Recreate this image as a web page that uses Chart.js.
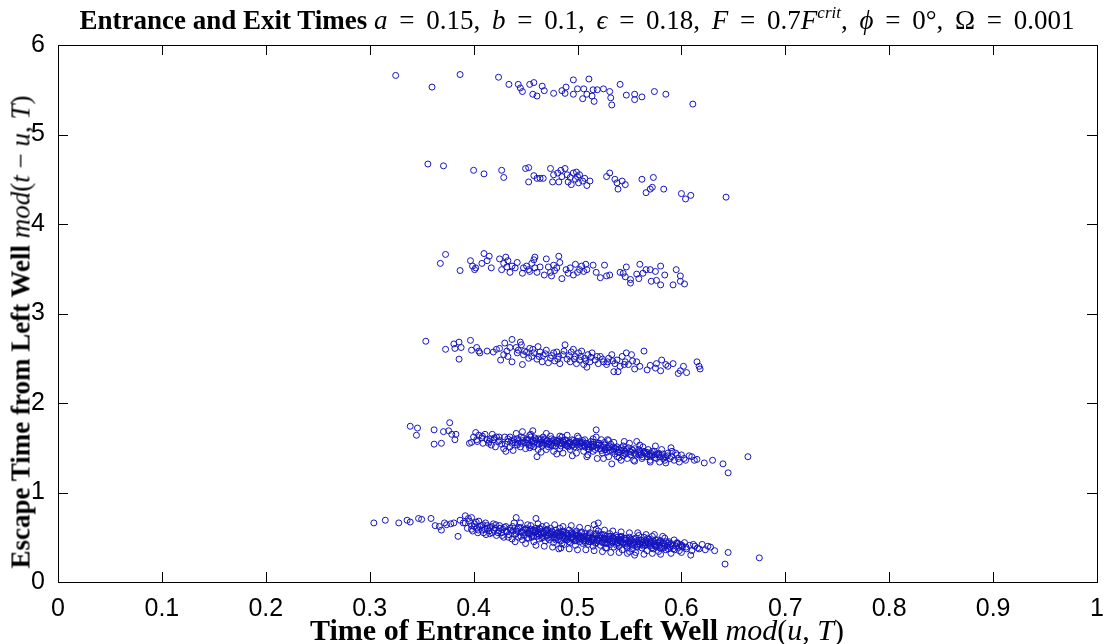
<!DOCTYPE html>
<html>
<head>
<meta charset="utf-8">
<script src="https://cdn.jsdelivr.net/npm/chart.js@4.4.1/dist/chart.umd.min.js"></script>
<style>
  body { margin: 0; background: #fff; }
  #wrap { position: relative; width: 1110px; height: 644px; }
  .lbl { position: absolute; white-space: nowrap; font-family: "Liberation Serif", serif; color: #000; line-height: 1; }
  .lbl b { font-weight: bold; }
  .math { word-spacing: 5px; }
  #title { left: 577px; top: 20px; transform: translate(-50%, -50%); font-size: 27px; }
  #xlab { left: 577px; top: 630px; transform: translate(-50%, -50%); font-size: 30px; }
  #ylab { left: 21px; top: 332px; transform: translate(-50%, -50%) rotate(-90deg); font-size: 27px; }
  sup { font-size: 17px; vertical-align: 11px; line-height: 0; }
</style>
</head>
<body>
<div id="wrap">
  <canvas id="scatter" width="1110" height="644"></canvas>
  <div class="lbl" id="title"><b>Entrance and Exit Times</b> <span class="math"><i>a</i> = 0.15, <i>b</i> = 0.1, <i>ϵ</i> = 0.18, <i>F</i> = 0.7<i>F</i><sup><i>crit</i></sup>, <i>ϕ</i> = 0°, Ω = 0.001</span></div>
  <div class="lbl" id="xlab"><b>Time of Entrance into Left Well</b> <i>mod</i>(<i>u</i>, <i>T</i>)</div>
  <div class="lbl" id="ylab"><b>Escape Time from Left Well</b> <i>mod</i>(<i>t</i> − <i>u</i>, <i>T</i>)</div>
</div>
<script>
const xTickLabels = ["0", "0.1", "0.2", "0.3", "0.4", "0.5", "0.6", "0.7", "0.8", "0.9", "1"];
const yTickLabels = ["0", "1", "2", "3", "4", "5", "6"];

// [entrance time, escape time], one array per band
const band6 = [
  [0.325,5.66],[0.360,5.53],[0.387,5.67],[0.424,5.64],[0.434,5.56],[0.443,5.56],[0.445,5.52],[0.447,5.48],
  [0.454,5.56],[0.458,5.58],[0.457,5.45],[0.461,5.43],[0.466,5.54],[0.468,5.49],[0.477,5.46],[0.485,5.49],
  [0.489,5.53],[0.488,5.46],[0.496,5.61],[0.496,5.45],[0.500,5.51],[0.505,5.40],[0.506,5.51],[0.509,5.45],
  [0.511,5.62],[0.514,5.43],[0.515,5.50],[0.516,5.37],[0.519,5.50],[0.525,5.51],[0.531,5.48],[0.532,5.41],
  [0.533,5.33],[0.541,5.56],[0.547,5.44],[0.555,5.45],[0.555,5.39],[0.562,5.42],[0.574,5.48],[0.585,5.45],
  [0.611,5.34]
];
const band5 = [
  [0.356,4.67],[0.371,4.65],[0.400,4.60],[0.410,4.56],[0.427,4.60],[0.429,4.52],[0.450,4.62],[0.453,4.63],
  [0.453,4.47],[0.458,4.54],[0.461,4.51],[0.464,4.51],[0.467,4.51],[0.474,4.62],[0.476,4.47],[0.477,4.55],
  [0.481,4.57],[0.482,4.47],[0.484,4.60],[0.485,4.53],[0.488,4.62],[0.490,4.55],[0.491,4.47],[0.493,4.52],
  [0.494,4.44],[0.496,4.57],[0.498,4.50],[0.499,4.58],[0.500,4.53],[0.501,4.46],[0.502,4.55],[0.505,4.48],
  [0.507,4.51],[0.509,4.43],[0.512,4.48],[0.528,4.53],[0.531,4.57],[0.536,4.50],[0.538,4.46],[0.539,4.39],
  [0.543,4.48],[0.546,4.44],[0.562,4.50],[0.573,4.52],[0.566,4.35],[0.570,4.39],[0.572,4.41],[0.583,4.39],
  [0.600,4.34],[0.604,4.28],[0.609,4.32],[0.643,4.30]
];
const band4 = [
  [0.368,3.56],[0.373,3.66],[0.387,3.48],[0.397,3.59],[0.399,3.53],[0.401,3.49],[0.402,3.51],[0.408,3.56],
  [0.410,3.67],[0.415,3.64],[0.413,3.59],[0.417,3.51],[0.425,3.61],[0.427,3.49],[0.429,3.56],[0.431,3.63],
  [0.432,3.52],[0.433,3.59],[0.435,3.46],[0.437,3.53],[0.440,3.51],[0.442,3.57],[0.447,3.45],[0.448,3.51],
  [0.451,3.53],[0.453,3.49],[0.454,3.47],[0.456,3.56],[0.458,3.60],[0.459,3.63],[0.459,3.51],[0.461,3.46],
  [0.464,3.52],[0.468,3.43],[0.470,3.61],[0.472,3.52],[0.474,3.46],[0.475,3.42],[0.477,3.54],[0.478,3.48],
  [0.482,3.64],[0.483,3.57],[0.480,3.51],[0.485,3.39],[0.489,3.49],[0.491,3.45],[0.493,3.51],[0.496,3.43],
  [0.498,3.55],[0.500,3.46],[0.502,3.49],[0.504,3.53],[0.506,3.47],[0.508,3.55],[0.509,3.49],[0.515,3.54],
  [0.518,3.46],[0.522,3.40],[0.526,3.54],[0.528,3.42],[0.531,3.43],[0.541,3.46],[0.544,3.45],[0.546,3.41],
  [0.547,3.52],[0.551,3.38],[0.551,3.34],[0.557,3.44],[0.559,3.39],[0.560,3.55],[0.563,3.45],[0.566,3.49],
  [0.570,3.49],[0.571,3.36],[0.575,3.47],[0.576,3.37],[0.580,3.53],[0.584,3.43],[0.580,3.32],[0.592,3.32],
  [0.595,3.49],[0.599,3.42],[0.599,3.36],[0.603,3.33]
];
const band3 = [
  [0.354,2.69],[0.373,2.60],[0.381,2.66],[0.382,2.61],[0.386,2.68],[0.388,2.62],[0.386,2.49],[0.397,2.70],
  [0.398,2.59],[0.403,2.62],[0.406,2.56],[0.405,2.58],[0.413,2.58],[0.419,2.57],[0.422,2.60],[0.425,2.61],
  [0.426,2.48],[0.429,2.54],[0.430,2.67],[0.432,2.58],[0.433,2.52],[0.435,2.62],[0.437,2.46],[0.437,2.71],
  [0.442,2.56],[0.443,2.59],[0.445,2.68],[0.446,2.65],[0.447,2.43],[0.448,2.54],[0.451,2.57],[0.453,2.50],
  [0.454,2.61],[0.456,2.52],[0.458,2.56],[0.461,2.49],[0.462,2.63],[0.464,2.57],[0.466,2.46],[0.467,2.53],
  [0.470,2.59],[0.472,2.45],[0.474,2.50],[0.477,2.56],[0.478,2.47],[0.480,2.57],[0.482,2.52],[0.483,2.44],
  [0.486,2.54],[0.488,2.65],[0.490,2.49],[0.493,2.46],[0.494,2.57],[0.496,2.60],[0.498,2.52],[0.499,2.44],
  [0.501,2.56],[0.502,2.48],[0.504,2.58],[0.506,2.43],[0.507,2.50],[0.509,2.40],[0.510,2.54],[0.512,2.46],
  [0.514,2.56],[0.517,2.48],[0.520,2.44],[0.522,2.52],[0.525,2.46],[0.528,2.43],[0.530,2.50],[0.533,2.54],
  [0.535,2.35],[0.536,2.44],[0.538,2.48],[0.539,2.35],[0.541,2.41],[0.543,2.52],[0.546,2.46],[0.547,2.56],
  [0.549,2.43],[0.552,2.54],[0.555,2.38],[0.557,2.46],[0.564,2.58],[0.567,2.37],[0.576,2.44],[0.581,2.48],
  [0.580,2.36],[0.587,2.41],[0.592,2.44],[0.599,2.36],[0.602,2.41],[0.615,2.46],[0.617,2.41],[0.618,2.38],
  [0.605,2.34],[0.597,2.33],[0.575,2.39],[0.570,2.42],[0.585,2.43],[0.560,2.41],
  [0.441,2.62],[0.449,2.58],[0.457,2.60],[0.463,2.52],[0.469,2.55],[0.475,2.53],[0.481,2.49],[0.487,2.58],
  [0.492,2.53],[0.497,2.49],[0.503,2.52],[0.508,2.47],[0.513,2.51],[0.519,2.52],[0.524,2.49],[0.529,2.46],
  [0.534,2.47],[0.545,2.43],[0.553,2.47]
];
const band2 = [
  [0.339,1.74],[0.346,1.72],[0.345,1.64],[0.362,1.70],[0.362,1.54],[0.369,1.55],[0.371,1.68],[0.377,1.78],
  [0.376,1.69],[0.379,1.65],[0.383,1.65],[0.382,1.59],
  [0.396,1.55],[0.398,1.56],[0.400,1.62],[0.402,1.67],[0.403,1.59],[0.405,1.64],[0.408,1.61],[0.409,1.55],
  [0.411,1.65],[0.413,1.59],[0.415,1.57],[0.417,1.53],[0.418,1.65],[0.420,1.61],[0.421,1.51],[0.422,1.62],
  [0.424,1.57],[0.429,1.49],[0.430,1.62],[0.431,1.46],[0.433,1.57],[0.435,1.62],[0.437,1.55],[0.438,1.47],
  [0.439,1.59],[0.441,1.66],[0.442,1.53],[0.443,1.58],[0.445,1.51],[0.446,1.62],[0.447,1.68],[0.449,1.56],
  [0.450,1.49],[0.451,1.59],[0.453,1.53],[0.454,1.64],[0.456,1.57],[0.457,1.69],[0.458,1.51],[0.459,1.61],
  [0.461,1.55],[0.461,1.40],[0.462,1.48],[0.464,1.59],[0.466,1.52],[0.467,1.62],[0.469,1.55],[0.470,1.48],
  [0.471,1.58],[0.472,1.51],[0.474,1.63],[0.475,1.55],[0.477,1.46],[0.477,1.59],[0.479,1.52],[0.481,1.57],
  [0.483,1.63],[0.483,1.49],[0.485,1.55],[0.486,1.44],[0.488,1.59],[0.490,1.52],[0.490,1.64],[0.492,1.56],
  [0.493,1.48],[0.495,1.59],[0.497,1.51],[0.499,1.44],[0.499,1.57],[0.501,1.61],[0.502,1.51],[0.504,1.55],
  [0.506,1.46],[0.507,1.59],[0.509,1.40],[0.510,1.53],[0.511,1.48],[0.513,1.57],[0.515,1.46],[0.516,1.52],
  [0.518,1.70],[0.518,1.62],[0.519,1.38],[0.520,1.55],[0.522,1.49],[0.523,1.59],[0.524,1.44],[0.526,1.53],
  [0.527,1.48],[0.529,1.59],[0.530,1.40],[0.531,1.51],[0.533,1.32],[0.534,1.46],[0.535,1.56],[0.537,1.49],
  [0.538,1.40],[0.540,1.48],[0.542,1.36],[0.544,1.52],[0.545,1.44],[0.547,1.48],[0.548,1.38],[0.550,1.55],
  [0.552,1.45],[0.554,1.36],[0.555,1.49],[0.557,1.57],[0.559,1.42],[0.560,1.46],[0.562,1.38],[0.563,1.51],
  [0.565,1.44],[0.567,1.40],[0.568,1.48],[0.570,1.36],[0.572,1.42],[0.574,1.46],[0.576,1.38],[0.578,1.44],
  [0.579,1.34],[0.581,1.48],[0.583,1.40],[0.584,1.36],[0.587,1.44],[0.589,1.38],[0.591,1.46],[0.593,1.36],
  [0.596,1.42],[0.597,1.38],
  [0.442,1.60],[0.446,1.55],[0.448,1.61],[0.450,1.56],[0.452,1.59],[0.454,1.50],[0.455,1.62],[0.458,1.55],
  [0.460,1.59],[0.463,1.54],[0.465,1.60],[0.466,1.56],[0.468,1.59],[0.471,1.54],[0.473,1.57],[0.475,1.60],
  [0.476,1.52],[0.479,1.58],[0.480,1.55],[0.482,1.59],[0.484,1.52],[0.486,1.58],[0.488,1.54],[0.489,1.58],
  [0.491,1.51],[0.493,1.56],[0.495,1.53],[0.496,1.58],[0.498,1.55],[0.500,1.53],[0.502,1.56],[0.504,1.52],
  [0.505,1.58],[0.507,1.51],[0.508,1.55],[0.510,1.49],[0.511,1.54],[0.514,1.51],[0.515,1.56],[0.517,1.48],
  [0.519,1.53],[0.521,1.55],[0.523,1.47],[0.525,1.51],[0.526,1.56],[0.528,1.45],[0.530,1.50],[0.532,1.54],
  [0.535,1.48],[0.536,1.43],[0.538,1.51],[0.540,1.45],[0.542,1.50],[0.544,1.41],[0.546,1.46],[0.549,1.50],
  [0.551,1.42],[0.553,1.47],[0.556,1.43],[0.559,1.48],[0.561,1.42],[0.564,1.46],[0.567,1.43],[0.570,1.41],
  [0.572,1.46],[0.575,1.42],[0.579,1.40],[0.582,1.43],[0.585,1.40],[0.416,1.60],[0.425,1.58],[0.427,1.54],
  [0.433,1.60],[0.440,1.56],[0.435,1.51],
  [0.4035,1.57],[0.4085,1.63],[0.4145,1.55],[0.4195,1.59],[0.4245,1.62],[0.4305,1.54],[0.4365,1.58],[0.4425,1.55],
  [0.4475,1.58],[0.4525,1.55],[0.4555,1.52],[0.4595,1.57],[0.4625,1.60],[0.4665,1.54],[0.4705,1.58],[0.4745,1.53],
  [0.4785,1.56],[0.4825,1.54],[0.4865,1.56],[0.4905,1.55],[0.4945,1.52],[0.4985,1.57],[0.5025,1.54],[0.5065,1.53],
  [0.5105,1.51],[0.5145,1.54],[0.5185,1.50],[0.5225,1.52],[0.5265,1.48],[0.5305,1.47],[0.5345,1.51],[0.5385,1.45],
  [0.5425,1.47],[0.5465,1.43],[0.5505,1.46],[0.5545,1.44],[0.5585,1.45],[0.5625,1.40],[0.5665,1.45],[0.5705,1.44],
  [0.5745,1.39],[0.5785,1.42],[0.5825,1.38],[0.5865,1.41],[0.5905,1.40],[0.5945,1.44],[0.6025,1.38],[0.6075,1.41],
  [0.6125,1.36],
  [0.455,1.65],[0.470,1.66],[0.485,1.62],[0.500,1.63],[0.515,1.60],[0.530,1.58],[0.545,1.57],[0.560,1.53],
  [0.575,1.52],[0.590,1.50],[0.465,1.45],[0.480,1.43],[0.495,1.41],[0.510,1.42],[0.525,1.38],[0.540,1.39],
  [0.555,1.35],[0.570,1.34],[0.585,1.33],[0.598,1.34],[0.4575,1.58],[0.4645,1.56],[0.4725,1.55],[0.4805,1.57],
  [0.4885,1.53],[0.4965,1.55],[0.5045,1.56],[0.5125,1.53],[0.5205,1.53],[0.5285,1.50],[0.5365,1.49],[0.5445,1.48],
  [0.5525,1.48],[0.5605,1.44],[0.5685,1.42],[0.5765,1.43],
  [0.600,1.42],[0.604,1.36],[0.610,1.40],[0.615,1.37],[0.622,1.33],[0.630,1.36],[0.640,1.32],[0.645,1.22],
  [0.664,1.40]
];
const band1 = [
  [0.304,0.66],[0.315,0.69],[0.328,0.66],[0.336,0.69],[0.339,0.67],[0.347,0.71],[0.350,0.70],[0.359,0.71],
  [0.363,0.63],[0.367,0.62],[0.369,0.58],[0.372,0.66],[0.374,0.64],[0.378,0.65],[0.381,0.66],[0.385,0.51],
  [0.387,0.69],[0.390,0.66],[0.392,0.74],[0.395,0.71],[0.398,0.72],[0.398,0.59],
  [0.392,0.66],[0.394,0.60],[0.396,0.68],[0.398,0.63],[0.399,0.57],[0.401,0.65],[0.403,0.60],[0.404,0.55],
  [0.405,0.68],[0.406,0.62],[0.408,0.58],[0.409,0.64],[0.411,0.59],[0.412,0.53],[0.413,0.63],[0.415,0.57],
  [0.416,0.61],[0.418,0.55],[0.419,0.65],[0.421,0.60],[0.422,0.52],[0.424,0.57],[0.425,0.63],[0.427,0.55],
  [0.428,0.59],[0.429,0.50],[0.431,0.62],[0.432,0.56],[0.434,0.53],[0.435,0.60],[0.437,0.48],[0.438,0.57],
  [0.439,0.66],[0.441,0.54],[0.442,0.59],[0.443,0.50],[0.445,0.61],[0.446,0.56],[0.447,0.47],[0.448,0.58],
  [0.449,0.52],[0.451,0.60],[0.452,0.55],[0.453,0.49],[0.454,0.57],[0.455,0.63],[0.456,0.52],[0.457,0.58],
  [0.458,0.45],[0.459,0.55],[0.460,0.60],[0.461,0.51],[0.462,0.56],[0.463,0.48],[0.464,0.59],[0.465,0.53],
  [0.466,0.62],[0.467,0.50],[0.468,0.56],[0.469,0.46],[0.470,0.58],[0.471,0.52],[0.472,0.55],[0.473,0.47],
  [0.474,0.60],[0.475,0.50],[0.476,0.56],[0.477,0.44],[0.478,0.53],[0.479,0.58],[0.480,0.49],[0.481,0.55],
  [0.482,0.51],[0.483,0.60],[0.484,0.46],[0.485,0.53],[0.486,0.57],[0.487,0.42],[0.488,0.50],[0.489,0.55],
  [0.490,0.47],[0.491,0.52],[0.492,0.58],[0.493,0.44],[0.494,0.50],[0.495,0.55],[0.496,0.48],[0.497,0.53],
  [0.498,0.41],[0.499,0.57],[0.500,0.49],[0.501,0.53],[0.502,0.45],[0.503,0.51],[0.504,0.56],[0.505,0.43],
  [0.506,0.48],[0.507,0.54],[0.508,0.46],[0.509,0.51],[0.510,0.42],[0.511,0.49],[0.512,0.55],[0.513,0.45],
  [0.514,0.50],[0.515,0.40],[0.516,0.47],[0.517,0.53],[0.518,0.44],[0.519,0.49],[0.520,0.57],[0.521,0.46],
  [0.522,0.41],[0.523,0.50],[0.524,0.44],[0.525,0.53],[0.526,0.47],[0.527,0.38],[0.528,0.51],[0.529,0.43],
  [0.530,0.48],[0.531,0.54],[0.532,0.42],[0.533,0.46],[0.534,0.50],[0.535,0.39],[0.536,0.45],[0.537,0.52],
  [0.538,0.43],[0.539,0.48],[0.540,0.40],[0.541,0.46],[0.542,0.51],[0.543,0.36],[0.544,0.44],[0.545,0.49],
  [0.546,0.41],[0.547,0.47],[0.548,0.38],[0.549,0.45],[0.550,0.50],[0.551,0.42],[0.552,0.47],[0.553,0.37],
  [0.554,0.44],[0.556,0.49],[0.557,0.40],[0.558,0.45],[0.559,0.52],[0.560,0.42],[0.561,0.47],[0.562,0.38],
  [0.563,0.44],[0.564,0.50],[0.565,0.41],[0.566,0.46],[0.567,0.35],[0.568,0.43],[0.569,0.48],[0.570,0.40],
  [0.571,0.45],[0.572,0.51],[0.573,0.37],[0.574,0.43],[0.575,0.47],[0.576,0.39],[0.577,0.44],[0.578,0.34],
  [0.579,0.41],[0.580,0.46],[0.581,0.38],[0.583,0.43],[0.584,0.49],[0.585,0.36],[0.587,0.41],[0.588,0.45],
  [0.589,0.39],[0.590,0.43],[0.592,0.37],[0.593,0.47],[0.595,0.40],[0.596,0.44],[0.598,0.35],[0.599,0.42],
  [0.601,0.39],[0.603,0.44],[0.605,0.37],[0.608,0.41],[0.610,0.35],[0.613,0.40],[0.617,0.37],[0.620,0.42],
  [0.623,0.36],[0.628,0.39],[0.632,0.35],
  [0.441,0.72],[0.460,0.71],[0.520,0.66],[0.516,0.64],[0.528,0.38],[0.555,0.30],[0.550,0.34],[0.482,0.37],
  [0.485,0.43],[0.600,0.40],[0.596,0.43],[0.642,0.20],[0.645,0.33],[0.675,0.27],
  [0.4005,0.62],[0.4025,0.67],[0.4045,0.58],[0.4075,0.63],[0.4095,0.55],[0.4115,0.66],[0.4135,0.60],[0.4155,0.54],
  [0.4175,0.62],[0.4195,0.58],[0.4215,0.64],[0.4235,0.55],[0.4255,0.60],[0.4275,0.52],[0.4295,0.61],[0.4315,0.57],
  [0.4335,0.50],[0.4355,0.58],[0.4375,0.62],[0.4395,0.53],[0.4415,0.57],[0.4435,0.61],[0.4455,0.51],[0.4475,0.55],
  [0.4495,0.59],[0.4515,0.49],[0.4535,0.54],[0.4555,0.59],[0.4575,0.51],[0.4595,0.57],[0.4615,0.54],[0.4635,0.60],
  [0.4655,0.49],[0.4675,0.54],[0.4695,0.58],[0.4715,0.49],[0.4735,0.53],[0.4755,0.57],[0.4775,0.50],[0.4795,0.54],
  [0.4815,0.47],[0.4835,0.52],[0.4855,0.56],[0.4875,0.48],[0.4895,0.52],[0.4915,0.45],[0.4935,0.55],[0.4955,0.50],
  [0.4975,0.46],[0.4995,0.52],[0.5015,0.48],[0.5035,0.55],[0.5055,0.50],[0.5075,0.44],[0.5095,0.49],[0.5115,0.53],
  [0.5135,0.47],[0.5155,0.51],[0.5175,0.43],[0.5195,0.47],[0.5215,0.52],[0.5235,0.45],[0.5255,0.49],[0.5275,0.43],
  [0.5295,0.47],[0.5315,0.51],[0.5335,0.44],[0.5355,0.48],[0.5375,0.41],[0.5395,0.46],[0.5415,0.50],[0.5435,0.43],
  [0.5455,0.47],[0.5475,0.40],[0.5495,0.44],[0.5515,0.48],[0.5535,0.41],[0.5555,0.45],[0.5575,0.39],[0.5595,0.43],
  [0.5615,0.47],[0.5635,0.40],[0.5655,0.44],[0.5675,0.49],[0.5695,0.42],[0.5715,0.38],[0.5735,0.45],[0.5755,0.41],
  [0.5775,0.47],[0.5795,0.38],[0.5815,0.43],[0.5835,0.40],[0.5855,0.45],[0.5875,0.37],[0.5895,0.42],[0.5915,0.40],
  [0.5935,0.36],[0.5955,0.43],[0.5975,0.39],[0.6005,0.41],[0.6045,0.39],[0.6115,0.42],[0.6155,0.38],[0.6255,0.40],
  [0.452,0.58],[0.456,0.50],[0.462,0.54],[0.466,0.57],[0.470,0.52],[0.474,0.55],[0.478,0.49],[0.482,0.56],
  [0.486,0.50],[0.490,0.54],[0.494,0.48],[0.498,0.55],[0.502,0.51],[0.506,0.46],[0.510,0.52],[0.514,0.48],
  [0.518,0.54],[0.522,0.49],[0.526,0.44],[0.530,0.51],[0.534,0.46],[0.538,0.50],[0.542,0.45],[0.546,0.49],
  [0.550,0.44],[0.554,0.48],[0.558,0.42],[0.562,0.45],[0.566,0.42],[0.570,0.46],[0.574,0.41],[0.578,0.44],
  [0.445,0.66],[0.452,0.64],[0.462,0.65],[0.470,0.63],[0.478,0.64],[0.486,0.62],[0.494,0.63],[0.502,0.61],
  [0.510,0.60],[0.518,0.59],[0.526,0.58],[0.534,0.57],[0.542,0.56],[0.550,0.55],[0.558,0.55],[0.566,0.53],
  [0.574,0.53],[0.582,0.51],
  [0.440,0.45],[0.450,0.43],[0.460,0.41],[0.468,0.40],[0.476,0.39],[0.484,0.38],[0.492,0.37],[0.500,0.36],
  [0.508,0.36],[0.516,0.35],[0.524,0.34],[0.532,0.33],[0.540,0.33],[0.548,0.32],[0.556,0.33],[0.564,0.31],
  [0.572,0.32],[0.580,0.31],[0.590,0.32],[0.600,0.33],[0.609,0.30],
  [0.455,0.54],[0.459,0.58],[0.463,0.52],[0.467,0.55],[0.471,0.59],[0.475,0.53],[0.479,0.47],[0.483,0.55],
  [0.487,0.52],[0.491,0.49],[0.495,0.53],[0.499,0.46],[0.503,0.49],[0.507,0.51],[0.511,0.45],[0.515,0.49],
  [0.519,0.46],[0.523,0.53],[0.527,0.48],[0.531,0.45],[0.535,0.49],[0.539,0.44],[0.543,0.48],[0.547,0.43],
  [0.551,0.46],[0.555,0.41],[0.559,0.47],[0.563,0.42],[0.567,0.45],[0.571,0.43],[0.575,0.40],[0.579,0.45],
  [0.583,0.38],[0.587,0.43]
];

const toPoints = (band) => band.map(([x, y]) => ({ x: x, y: y }));
const allPoints = [].concat(
  toPoints(band1), toPoints(band2), toPoints(band3),
  toPoints(band4), toPoints(band5), toPoints(band6)
);

// inward tick marks on all four sides plus the box, like the original figure
const boxTicks = {
  id: "boxTicks",
  afterDatasetsDraw(chart) {
    const ctx = chart.ctx;
    const a = chart.chartArea;
    const x = chart.scales.x;
    const y = chart.scales.y;
    const len = 10;
    ctx.save();
    ctx.strokeStyle = "#000";
    ctx.lineWidth = 1;
    ctx.beginPath();
    x.ticks.forEach(function(t) {
      const px = Math.round(x.getPixelForValue(t.value)) + 0.5;
      ctx.moveTo(px, a.bottom);
      ctx.lineTo(px, a.bottom - len);
      ctx.moveTo(px, a.top);
      ctx.lineTo(px, a.top + len);
    });
    y.ticks.forEach(function(t) {
      const py = Math.round(y.getPixelForValue(t.value)) + 0.5;
      ctx.moveTo(a.left, py);
      ctx.lineTo(a.left + len, py);
      ctx.moveTo(a.right, py);
      ctx.lineTo(a.right - len, py);
    });
    ctx.stroke();
    ctx.strokeRect(Math.round(a.left) + 0.5, Math.round(a.top) + 0.5,
      Math.round(a.right - a.left), Math.round(a.bottom - a.top));
    ctx.restore();
  }
};

new Chart(document.getElementById("scatter"), {
  type: "scatter",
  data: {
    datasets: [
      {
        data: allPoints,
        pointStyle: "circle",
        pointRadius: 3,
        pointBackgroundColor: "rgba(0,0,0,0)",
        pointBorderColor: "rgb(20,20,190)",
        pointBorderWidth: 1
      }
    ]
  },
  options: {
    responsive: false,
    animation: false,
    events: [],
    layout: { padding: { top: 45, right: 13, left: 0, bottom: 0 } },
    plugins: {
      legend: { display: false },
      tooltip: { enabled: false }
    },
    scales: {
      x: {
        type: "linear",
        min: 0,
        max: 1,
        afterFit: function(s) { s.height = 62; },
        grid: { display: false },
        border: { display: false },
        ticks: {
          stepSize: 0.1,
          autoSkip: false,
          maxRotation: 0,
          padding: 4,
          color: "#000",
          font: { family: "Liberation Sans", size: 25 },
          callback: function(v, i) { return xTickLabels[i]; }
        }
      },
      y: {
        type: "linear",
        min: 0,
        max: 6,
        afterFit: function(s) { s.width = 58; },
        grid: { display: false },
        border: { display: false },
        ticks: {
          stepSize: 1,
          padding: 5,
          color: "#000",
          font: { family: "Liberation Sans", size: 25 },
          callback: function(v, i) { return yTickLabels[i]; }
        }
      }
    }
  },
  plugins: [boxTicks]
});
</script>
</body>
</html>
